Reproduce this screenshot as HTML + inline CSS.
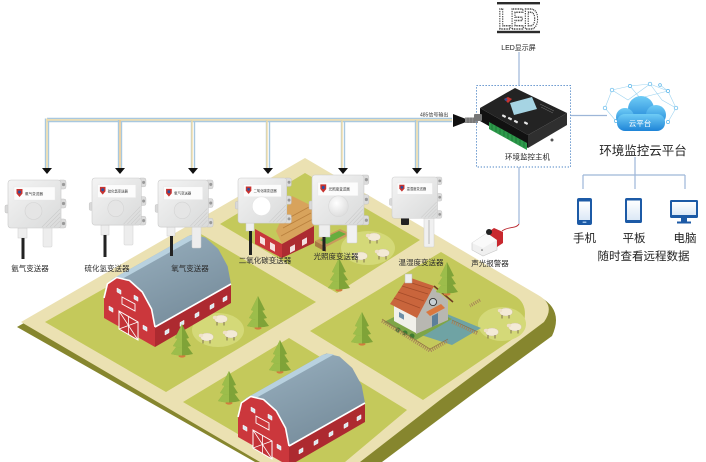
<!DOCTYPE html>
<html><head><meta charset="utf-8"><title>环境监控系统</title>
<style>
html,body{margin:0;padding:0;background:#fff;width:706px;height:462px;overflow:hidden}
svg{display:block}
text{font-family:"Liberation Sans","Noto Sans CJK SC",sans-serif}
</style></head><body>
<svg width="706" height="462" viewBox="0 0 706 462" xmlns="http://www.w3.org/2000/svg">
<defs>
<linearGradient id="roofg" x1="0" y1="0" x2="0.6" y2="1">
 <stop offset="0" stop-color="#a9c3d2"/><stop offset="0.35" stop-color="#8fa6b5"/><stop offset="1" stop-color="#778d9c"/>
</linearGradient>
<linearGradient id="boxg" x1="0" y1="0" x2="1" y2="1">
 <stop offset="0" stop-color="#f4f4f4"/><stop offset="1" stop-color="#d9dada"/>
</linearGradient>
<linearGradient id="cloudg" x1="0" y1="0" x2="0" y2="1">
 <stop offset="0" stop-color="#6fccf6"/><stop offset="1" stop-color="#1e84d7"/>
</linearGradient>
<radialGradient id="domeg" cx="0.4" cy="0.35" r="0.7">
 <stop offset="0" stop-color="#ffffff"/><stop offset="1" stop-color="#dcdcdc"/>
</radialGradient>
<linearGradient id="scrg" x1="0" y1="0" x2="0" y2="1">
 <stop offset="0" stop-color="#ffffff"/><stop offset="1" stop-color="#dbe8f6"/>
</linearGradient>

<g id="tree">
 <ellipse cx="12" cy="32" rx="3.5" ry="1.6" fill="#d27b3e"/>
 <path d="M1,30 Q12,33 23,30 L12,15 Z" fill="#7fa338"/>
 <path d="M1,30 Q6,31.5 12,31.5 L12,15 Z" fill="#9cbd4b"/>
 <path d="M3,22 Q12,25 21,22 L12,8 Z" fill="#7fa338"/>
 <path d="M3,22 Q7,23.5 12,23.5 L12,8 Z" fill="#9cbd4b"/>
 <path d="M5,14 Q12,16.5 19,14 L12,0 Z" fill="#7fa338"/>
 <path d="M5,14 Q8,15.5 12,15.5 L12,0 Z" fill="#9cbd4b"/>
</g>

<g id="sheep">
 <ellipse cx="8" cy="5" rx="6.5" ry="4" fill="#f3ead6" stroke="#cfc2a4" stroke-width=".4"/>
 <ellipse cx="2" cy="3.5" rx="2.2" ry="1.8" fill="#efe0c8"/>
 <line x1="4" y1="8" x2="4" y2="11.5" stroke="#6b5a44" stroke-width=".8"/>
 <line x1="11" y1="8" x2="11" y2="11.5" stroke="#6b5a44" stroke-width=".8"/>
</g>

<g id="sbox">
 <rect x="-3" y="25" width="5" height="8" rx="1.5" fill="#d9d9d9" stroke="#c2c2c2" stroke-width=".5"/>
 <rect x="50" y="0" width="8" height="9" rx="2" fill="#dcdcdc" stroke="#c2c2c2" stroke-width=".5"/>
 <rect x="50" y="19" width="8" height="9" rx="2" fill="#dcdcdc" stroke="#c2c2c2" stroke-width=".5"/>
 <rect x="50" y="39" width="8" height="9" rx="2" fill="#dcdcdc" stroke="#c2c2c2" stroke-width=".5"/>
 <circle cx="55.5" cy="4.5" r="1.6" fill="#9a9a9a"/>
 <circle cx="55.5" cy="23.5" r="1.6" fill="#9a9a9a"/>
 <circle cx="55.5" cy="43.5" r="1.6" fill="#9a9a9a"/>
 <rect x="0" y="0" width="53" height="48" rx="3" fill="url(#boxg)" stroke="#c9c9c9" stroke-width=".6"/>
 <path d="M38,47 L52,33 M42,47 L52,37 M46,47 L52,41 M34,47 L52,29" stroke="#cbcbcb" stroke-width=".6"/>
 <rect x="6" y="7" width="41" height="13" fill="#fcfcfc" stroke="#e6e6e6" stroke-width=".4"/>
 <path d="M8.5,9 h6 v4.5 l-3,3.5 l-3,-3.5z" fill="#c7332f"/>
 <circle cx="11.5" cy="12" r="1.5" fill="#2a4fa0"/>
</g>

<g id="barn">
 <path d="M104,298 L107.4,283.9 L112.4,279 L188.4,236 L192.7,234.5 L205.5,237.5 L218.3,249 L227.6,266.1 L231,284 L155,327 Z" fill="url(#roofg)" stroke-linejoin="round"/>
 <path d="M107.4,283.9 L112.4,279 L188.4,236 L194,234.6 L200,235.4 L122,279 L116.7,277.5 Z" fill="#b8d1df"/>
 <path d="M155,327 L231,284 L231,303 L155,347 Z" fill="#ad2a30"/>
 <path d="M155,327 L231,284" stroke="#fff" stroke-width="1.6"/>
 <path d="M104,318 L104,298 L107.4,283.9 L116.7,277.5 L129.5,280.5 L142.3,292 L151.6,309.1 L155,327 L155,347 Z" fill="#cb373c" stroke-linejoin="round"/>
 <path d="M104,298 L107.4,283.9 L116.7,277.5 L129.5,280.5 L142.3,292 L151.6,309.1 L155,327" fill="none" stroke="#fff" stroke-width="1.6" stroke-linejoin="round"/>
 <path d="M119,311 L138,322 L138,340 L119,329 Z" fill="#c33237" stroke="#fff" stroke-width="1"/>
 <path d="M119,311 L138,340 M138,322 L119,329 M128.5,316.5 L128.5,334.5" stroke="#fff" stroke-width=".8"/>
 <path d="M122,297 L135,304 L135,311 L122,304 Z" fill="none" stroke="#fff" stroke-width=".9"/>
 <path d="M117,288 l4,2.3 v4 l-4,-2.3z M109,306 l4,2.3 v4 l-4,-2.3z M143,325 l4,2.3 v4 l-4,-2.3z M134,295 l4,2.3 v4 l-4,-2.3z" fill="#dbe8f0" stroke="#fff" stroke-width=".5"/>
 <path d="M165,331 l4,-2.3 v4 l-4,2.3z M180,322.5 l4,-2.3 v4 l-4,2.3z M195,314 l4,-2.3 v4 l-4,2.3z M210,305.5 l4,-2.3 v4 l-4,2.3z M223,298 l4,-2.3 v4 l-4,2.3z" fill="#dbe8f0" stroke="#fff" stroke-width=".5"/>
</g>
</defs>

<!-- ================= FARM ================= -->
<path d="M17,327 L305,161 L540,297 Q564,310 552,336 L470,396 L382,462 L255,462 Z" fill="#86862e"/>
<path d="M21,322 L305,158 L538,295 Q556,305 544,322 L440,400 L360,462 L260,462 Z" fill="#ebe1b2"/>
<!-- fields -->
<path d="M220,224 L305,173 L420,240 L337,293 Z" fill="#c4c95b"/>
<path d="M45,322 L201,234 L316,302 L166,392 Z" fill="#c4c95b"/>
<path d="M183,402 L289,338 L407,410 L345,462 L286,462 Z" fill="#c4c95b"/>
<path d="M310,331 L441,252 L515,296 Q532,306 520,334 L423,400 Z" fill="#c4c95b"/>
<!-- patches -->
<ellipse cx="368" cy="248" rx="27" ry="17" fill="#d4d978"/>
<ellipse cx="218" cy="330" rx="26" ry="17" fill="#d4d978"/>
<ellipse cx="502" cy="324" rx="24" ry="17" fill="#d4d978"/>

<!-- small barn top field -->
<path d="M276,231 L292,196 L312,206 L314,226 L282,244 Z" fill="#d8a35c"/>
<path d="M285,220 L309,207 M283,228 L311,213 M281,236 L313,219" stroke="#b9803e" stroke-width=".8"/>
<path d="M255,229 L282,244 L282,258 L255,244 Z" fill="#c8363b"/>
<path d="M282,244 L314,226 L314,243 L282,258 Z" fill="#ac2b31"/>
<path d="M260,236 l5,2.7 v7 l-5,-2.7z M270,242 l5,2.7 v7 l-5,-2.7z M290,247 l5,-2.7 v6 l-5,2.7z M302,240 l5,-2.7 v6 l-5,2.7z" fill="#fff" opacity=".85"/>
<!-- planter -->
<path d="M315,241 L340,229 L351,234 L326,247 Z" fill="#c99a5c"/>
<path d="M320,240 L339,231 L346,234 L327,244 Z" fill="#66ad3e"/>
<path d="M315,241 L326,247 L326,252 L315,246 Z" fill="#a87a44"/>

<!-- barns -->
<use href="#barn"/>
<use href="#barn" transform="translate(134,119)"/>

<!-- house -->
<path d="M418,334 L447,314 L481,328 L452,345 Z" fill="#6fa3a4"/>
<path d="M384,322 L420,304 L452,319 L416,340 Z" fill="#7ea547"/>
<path d="M394,303 L416,316 L416,333 L394,321 Z" fill="#f1f0ea"/>
<path d="M416,316 L432,287 L448,300 L448,320 L416,334 Z" fill="#b8b7b1"/>
<path d="M390,304 L408,277 L434,286 L417,318 Z" fill="#c9653c"/>
<path d="M394,298 L420,308 M398,292 L424,301 M402,286 L428,294 M405,281 L431,289" stroke="#a44b29" stroke-width=".8"/>
<path d="M434,286 L453,302" stroke="#6e3b22" stroke-width="1.6"/>
<rect x="405" y="274" width="7" height="9" fill="#eeeeee" stroke="#bbb" stroke-width=".5"/>
<circle cx="433" cy="302" r="3.6" fill="#c7d0d5" stroke="#333" stroke-width=".9"/>
<path d="M426,312 L441,304 L445,308 L430,316 Z" fill="#d9773f"/>
<path d="M432,316 L438,313 L438,324 L432,327 Z" fill="#5c7f9a"/>
<path d="M399,312 l5,2.7 v5 l-5,-2.7z" fill="#6d8fa8"/>
<circle cx="398" cy="330" r="2.5" fill="#3f7a32"/><circle cx="405" cy="333" r="2.5" fill="#3f7a32"/><circle cx="412" cy="336" r="2.5" fill="#3f7a32"/>
<path d="M382,321 L430,351 L448,341 M452,322 L478,334 M480,300 L470,306" fill="none" stroke="#a88358" stroke-width="3.2" stroke-dasharray="1 1.2"/>
<path d="M382,319 L430,349 L448,339 M452,320 L478,332" fill="none" stroke="#8c6a42" stroke-width=".6"/>

<!-- trees -->
<use href="#tree" x="170" y="324"/>
<use href="#tree" x="246" y="296"/>
<use href="#tree" x="217" y="371"/>
<use href="#tree" x="268" y="340"/>
<use href="#tree" x="327" y="258"/>
<use href="#tree" x="350" y="312"/>
<use href="#tree" x="435" y="262"/>

<!-- sheep -->
<use href="#sheep" x="366" y="232"/>
<use href="#sheep" x="353" y="251"/>
<use href="#sheep" x="375" y="248"/>
<use href="#sheep" x="213" y="314"/>
<use href="#sheep" x="199" y="332"/>
<use href="#sheep" x="223" y="329"/>
<use href="#sheep" x="498" y="307"/>
<use href="#sheep" x="484" y="327"/>
<use href="#sheep" x="507" y="322"/>

<!-- ================= BUS ================= -->
<g fill="none" stroke-width="1.4">
 <path d="M47,118.5 H452" stroke="#a8c8df"/>
 <path d="M47,120 H452" stroke="#f1dba2"/>
 <path d="M47,121.5 H452" stroke="#a8c8df"/>
 <g stroke="#a8c8df">
  <path d="M45.5,118.5 V168 M118.5,120 V168 M191.5,120 V168 M266.5,120 V168 M341.5,120 V168 M415.5,120 V168"/>
  <path d="M48.5,121.5 V168 M121.5,121.5 V168 M194.5,121.5 V168 M269.5,121.5 V168 M344.5,121.5 V168 M418.5,121.5 V168"/>
 </g>
 <g stroke="#f1dba2">
  <path d="M47,118.5 V168 M192,120 V168 M267,120 V168 M342,120 V168 M417,120 V168"/>
  <path d="M120,120 V168" stroke="#f0c98a"/>
 </g>
</g>
<g fill="#111">
 <path d="M42,168 h10 l-5,6z M115,168 h10 l-5,6z M188,168 h10 l-5,6z M263,168 h10 l-5,6z M338,168 h10 l-5,6z M412,168 h10 l-5,6z"/>
</g>
<text x="420" y="116.5" font-size="5" fill="#333">485信号输出</text>
<path d="M453,114 L466,119 L466,122 L453,127 Z" fill="#111"/>
<rect x="465" y="117.5" width="13" height="5.5" fill="#8a8a8a"/>
<path d="M468,117.5 v5.5 M471,117.5 v5.5 M474,117.5 v5.5" stroke="#555" stroke-width=".6"/>

<!-- ================= SENSORS ================= -->
<!-- S1 -->
<rect x="18" y="228" width="9" height="10" fill="#eee" stroke="#ccc" stroke-width=".5"/>
<rect x="21.5" y="238" width="3" height="21" fill="#222"/>
<rect x="43" y="226" width="9" height="21" rx="1" fill="#ededed" stroke="#d0d0d0" stroke-width=".5"/>
<g transform="translate(8,180)">
 <use href="#sbox"/>
 <circle cx="25.5" cy="31" r="8.5" fill="#e5e5e5" stroke="#d3d3d3" stroke-width=".6"/>
 <text x="17" y="15" font-size="3.6" fill="#333">氨气变送器</text>
</g>
<!-- S2 -->
<rect x="101" y="225" width="8" height="10" fill="#eee" stroke="#ccc" stroke-width=".5"/>
<rect x="103.5" y="235" width="3" height="22" fill="#222"/>
<rect x="124" y="224" width="9" height="21" rx="1" fill="#ededed" stroke="#d0d0d0" stroke-width=".5"/>
<g transform="translate(92,178) scale(0.93,0.98)">
 <use href="#sbox"/>
 <circle cx="25.5" cy="31" r="8.5" fill="#e5e5e5" stroke="#d3d3d3" stroke-width=".6"/>
 <text x="17" y="15" font-size="3.6" fill="#333">硫化氢变送器</text>
</g>
<!-- S3 -->
<rect x="167" y="227" width="8" height="9" fill="#eee" stroke="#ccc" stroke-width=".5"/>
<rect x="170" y="236" width="3" height="20" fill="#222"/>
<rect x="192" y="226" width="9" height="22" rx="1" fill="#ededed" stroke="#d0d0d0" stroke-width=".5"/>
<g transform="translate(158,180) scale(0.95,0.98)">
 <use href="#sbox"/>
 <circle cx="25.5" cy="31" r="8.5" fill="#e5e5e5" stroke="#d3d3d3" stroke-width=".6"/>
 <text x="17" y="15" font-size="3.6" fill="#333">氧气变送器</text>
</g>
<!-- S4 -->
<rect x="246" y="222" width="8" height="9" fill="#eee" stroke="#ccc" stroke-width=".5"/>
<rect x="249" y="231" width="3" height="24" fill="#222"/>
<g transform="translate(238,178) scale(0.92,0.94)">
 <use href="#sbox"/>
 <circle cx="25.5" cy="30" r="10" fill="#ffffff" stroke="#e2e2e2" stroke-width=".6"/>
 <text x="17" y="15" font-size="3.6" fill="#333">二氧化碳变送器</text>
</g>
<!-- S5 -->
<rect x="319" y="224" width="11" height="13" fill="#eee" stroke="#ccc" stroke-width=".5"/>
<rect x="322.5" y="237" width="3" height="14" fill="#222"/>
<rect x="347" y="222" width="10" height="21" rx="1" fill="#f1f1f1" stroke="#d0d0d0" stroke-width=".5"/>
<g transform="translate(312,175) scale(0.98,1.04)">
 <use href="#sbox"/>
 <circle cx="27" cy="30" r="10" fill="url(#domeg)" stroke="#d8d8d8" stroke-width=".6"/>
 <text x="17" y="15" font-size="3.6" fill="#333">光照度变送器</text>
</g>
<!-- S6 -->
<rect x="401" y="217" width="8" height="8" rx="1" fill="#222"/>
<rect x="424" y="216" width="10" height="31" rx="1" fill="#f0f0f0" stroke="#cfcfcf" stroke-width=".5"/>
<rect x="428" y="220" width="2" height="24" fill="#d5d5d5"/>
<g transform="translate(392,177) scale(0.86,0.86)">
 <use href="#sbox"/>
 <text x="17" y="15" font-size="3.8" fill="#333">温湿度变送器</text>
</g>

<!-- sensor labels -->
<g font-size="7.5" fill="#2b2b2b" text-anchor="middle">
 <text x="30" y="271">氨气变送器</text>
 <text x="107" y="271">硫化氢变送器</text>
 <text x="190" y="271">氧气变送器</text>
 <text x="265" y="263">二氧化碳变送器</text>
 <text x="336" y="259">光照度变送器</text>
 <text x="421" y="265">温湿度变送器</text>
 <text x="490" y="266">声光报警器</text>
</g>

<!-- ================= HOST ================= -->
<path d="M519,52 V85 M519,167 V224 M571,115.5 H607 M635,157 V175 M583,175 H685 M583,175 V189 M635,175 V189 M685,175 V189" stroke="#9db6d8" stroke-width="1.2" fill="none"/>
<path d="M519,224 C516,229 509,226 502,231" stroke="#b8222a" stroke-width=".9" fill="none"/>
<rect x="476.5" y="85.5" width="94" height="81.5" fill="none" stroke="#4f86c6" stroke-width="1" stroke-dasharray="1.3 1.7"/>
<!-- device -->
<path d="M480,108 L515,88 L567,113 L528,135 Z" fill="#232323"/>
<path d="M480,108 L528,135 L528,148 L480,121 Z" fill="#111"/>
<path d="M528,135 L567,113 L567,125 L528,148 Z" fill="#2f2f2f"/>
<path d="M489,122 L527,143 L527,150 L489,129 Z" fill="#2d9a4b"/>
<path d="M492,124 v6 M496,126 v6 M500,128.5 v6 M504,130.5 v6 M508,133 v6 M512,135 v6 M516,137 v6 M520,139.5 v6 M524,141.5 v6" stroke="#1a6b31" stroke-width=".7"/>
<path d="M510,103 L532,97 L537,109 L514,115 Z" fill="#a6d4e3"/>
<path d="M504,99 l4,-2 l4,2 l-4,4z" fill="#c7332f"/>
<circle cx="506" cy="99.5" r="1.3" fill="#2a4fa0"/>
<rect x="502" y="115" width="4" height="2.2" rx=".6" fill="#e8e8e8" transform="rotate(28 504 116)"/>
<rect x="508" y="117.5" width="4" height="2.2" rx=".6" fill="#e8e8e8" transform="rotate(28 510 118.5)"/>
<rect x="514" y="120.5" width="4" height="2.2" rx=".6" fill="#e8e8e8" transform="rotate(28 516 121.5)"/>
<rect x="524" y="122" width="4" height="2.2" rx=".6" fill="#e8e8e8" transform="rotate(28 526 123)"/>
<path d="M540,104 l14,7 M541,107 l12,6" stroke="#777" stroke-width=".5"/>
<rect x="474" y="114" width="8" height="7" rx="1" fill="#777"/>
<circle cx="552" cy="140" r="1.5" fill="#555"/>
<text x="527.5" y="159.5" font-size="7.5" fill="#222" text-anchor="middle">环境监控主机</text>

<!-- LED -->
<rect x="497" y="2" width="43" height="2.4" fill="#2b2b2b"/>
<rect x="497" y="30.8" width="43" height="2.4" fill="#2b2b2b"/>
<text x="518.5" y="29" font-size="29" font-weight="bold" text-anchor="middle" textLength="40" lengthAdjust="spacingAndGlyphs" fill="none" stroke="#333" stroke-width="1.5" stroke-dasharray="1.3 1.1" font-family="Liberation Sans, sans-serif">LED</text>
<text x="518.5" y="50" font-size="7" fill="#222" text-anchor="middle">LED显示屏</text>

<!-- alarm -->
<path d="M472,243 L487,233 L497,240 L497,250 L483,256 L472,250 Z" fill="#f0f0f0" stroke="#c9c9c9" stroke-width=".6"/>
<path d="M472,243 L487,233 L497,240 L483,248 Z" fill="#fafafa"/>
<path d="M487,233 L494,228 L503,232 L503,243 L497,247 L497,240 Z" fill="#c8282e"/>
<circle cx="489" cy="232" r="3" fill="#222"/>
<circle cx="482" cy="250" r=".8" fill="#666"/>

<!-- ================= CLOUD ================= -->
<g stroke="#9fd4f0" stroke-width=".6" fill="none">
 <path d="M605,108 L612,90 L630,86 L650,84 L668,91 L676,108 L668,122 M612,90 L628,100 L650,84 M630,86 L640,98 L668,91 M605,108 L616,121 M650,84 L662,100 L676,108 M612,90 L605,108 M660,85 L668,91"/>
</g>
<g fill="#fff" stroke="#58b5ea" stroke-width=".7">
 <circle cx="605" cy="108" r="1.8"/><circle cx="612" cy="90" r="1.8"/><circle cx="630" cy="86" r="1.6"/>
 <circle cx="650" cy="84" r="1.8"/><circle cx="668" cy="91" r="1.6"/><circle cx="676" cy="108" r="1.8"/>
 <circle cx="668" cy="122" r="1.6"/><circle cx="616" cy="121" r="1.6"/><circle cx="660" cy="85" r="1.4"/>
</g>
<g fill="url(#cloudg)">
 <circle cx="641" cy="109" r="13"/>
 <circle cx="625" cy="117" r="9"/>
 <circle cx="656" cy="115" r="10"/>
 <rect x="617" y="114" width="48" height="17" rx="8"/>
</g>
<text x="640" y="126" font-size="7.5" fill="#fff" text-anchor="middle">云平台</text>
<text x="643" y="155" font-size="12.5" fill="#222" text-anchor="middle">环境监控云平台</text>

<!-- devices -->
<rect x="577" y="198" width="15" height="27" rx="2" fill="#1c5aa6"/>
<rect x="579" y="201.5" width="11" height="18.5" fill="url(#scrg)"/>
<rect x="582.5" y="221.5" width="4" height="1.5" rx=".7" fill="#9cc2ea"/>
<rect x="625" y="198" width="17" height="25" rx="1.8" fill="#1c5aa6"/>
<rect x="627" y="200.5" width="13" height="19.5" fill="url(#scrg)"/>
<rect x="670" y="200" width="28" height="18" rx="1.2" fill="#1c5aa6"/>
<rect x="672" y="202" width="24" height="13" fill="url(#scrg)"/>
<rect x="681" y="218" width="6" height="4" fill="#1c5aa6"/>
<rect x="677" y="221.5" width="14" height="2" fill="#1c5aa6"/>
<g font-size="11.5" fill="#222" text-anchor="middle">
 <text x="584.5" y="242">手机</text>
 <text x="634" y="242">平板</text>
 <text x="685" y="242">电脑</text>
 <text x="643.5" y="260">随时查看远程数据</text>
</g>
</svg>
</body></html>
